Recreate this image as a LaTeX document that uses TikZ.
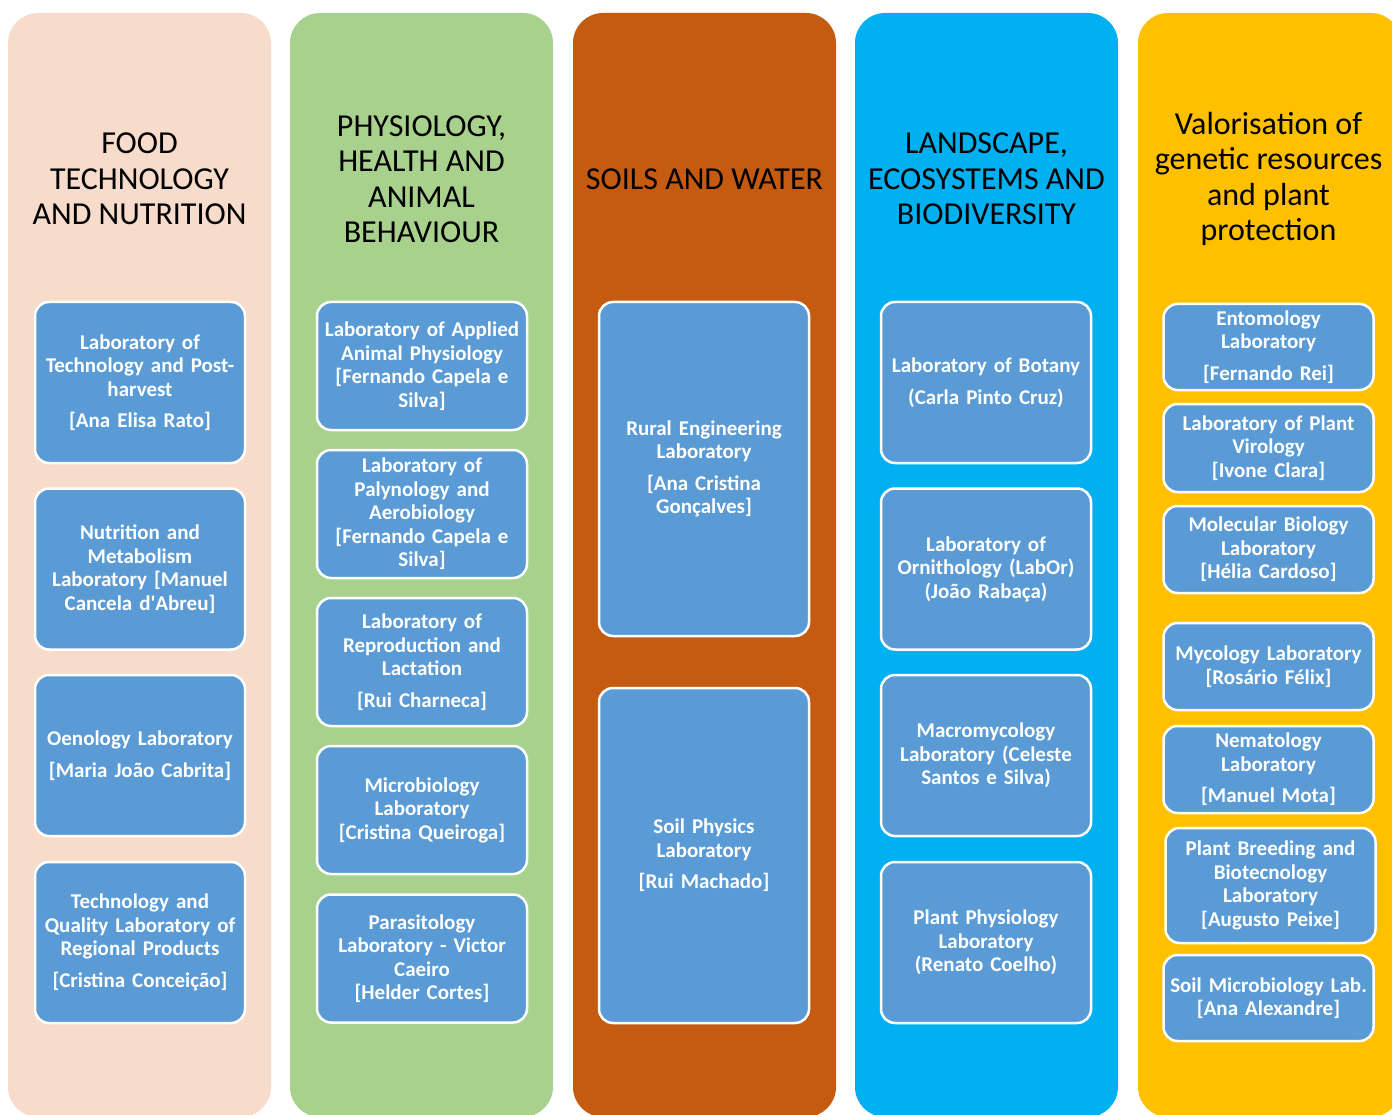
\documentclass[tikz,border=0pt]{standalone}
\usepackage{fontspec}
\setmainfont{Carlito}
\definecolor{foodcol}{HTML}{F8DCCB}
\definecolor{physcol}{HTML}{A9D18E}
\definecolor{soilcol}{HTML}{C55A11}
\definecolor{landcol}{HTML}{00B0F0}
\definecolor{genecol}{HTML}{FFC000}
\definecolor{labblue}{HTML}{5B9BD5}

\begin{document}
\begin{tikzpicture}[x=1pt,y=-1pt,
  column/.style={rounded corners=30pt},
  heading/.style={align=center,font=\fontsize{32}{35.5}\selectfont,text=black},
  lab/.style={draw=white,line width=2.5pt,fill=labblue,rounded corners=14pt,
    minimum width=210pt,text width=202pt,inner sep=0pt,align=center,
    text=white,font=\bfseries\fontsize{21}{23.5}\selectfont}]
   \useasboundingbox (0,0) rectangle (1392,1115);

   % columns
   \fill[column,foodcol] (8,13) rectangle (271,1117);
   \fill[column,physcol] (290,13) rectangle (553,1117);
   \fill[column,soilcol] (573,13) rectangle (836,1117);
   \fill[column,landcol] (855,13) rectangle (1118,1117);
   \fill[column,genecol] (1138,13) rectangle (1401,1117);

   % headings
   \node[heading] (hfood) at (139.5,179) {FOOD\\TECHNOLOGY\\AND NUTRITION};
   \node[heading] (hphys) at (421.5,179) {PHYSIOLOGY,\\HEALTH AND\\ANIMAL\\BEHAVIOUR};
   \node[heading] (hsoil) at (704.5,179) {SOILS AND WATER};
   \node[heading] (hland) at (986.5,179) {LANDSCAPE,\\ECOSYSTEMS AND\\BIODIVERSITY};
   \node[heading] (hgene) at (1268.5,179) {Valorisation of\\genetic resources\\and plant\\protection};

   % food technology and nutrition
   \node[lab,minimum height=161pt] (food1) at (140,382.5) {Laboratory of\\Technology and Post-\\harvest\\[8pt][Ana Elisa Rato]};
   \node[lab,minimum height=161pt] (food2) at (140,569) {Nutrition and\\Metabolism\\Laboratory [Manuel\\Cancela d\textquotesingle Abreu]};
   \node[lab,minimum height=161pt] (food3) at (140,755.5) {Oenology Laboratory\\[8pt][Maria João Cabrita]};
   \node[lab,minimum height=161pt] (food4) at (140,942.5) {Technology and\\Quality Laboratory of\\Regional Products\\[8pt][Cristina Conceição]};

   % physiology, health and animal behaviour
   \node[lab,minimum height=128pt] (phys1) at (422,366) {Laboratory of Applied\\Animal Physiology\\{}[Fernando Capela e\\Silva]};
   \node[lab,minimum height=128pt] (phys2) at (422,514) {Laboratory of\\Palynology and\\Aerobiology\\{}[Fernando Capela e\\Silva]};
   \node[lab,minimum height=128pt] (phys3) at (422,662) {Laboratory of\\Reproduction and\\Lactation\\[8pt][Rui Charneca]};
   \node[lab,minimum height=128pt] (phys4) at (422,810) {Microbiology\\Laboratory\\{}[Cristina Queiroga]};
   \node[lab,minimum height=128pt] (phys5) at (422,958.5) {Parasitology\\Laboratory - Victor\\Caeiro\\{}[Helder Cortes]};

   % soils and water
   \node[lab,minimum height=334pt] (soil1) at (704,469) {Rural Engineering\\Laboratory\\[8pt][Ana Cristina\\Gonçalves]};
   \node[lab,minimum height=335pt] (soil2) at (704,855.5) {Soil Physics\\Laboratory\\[8pt][Rui Machado]};

   % landscape, ecosystems and biodiversity
   \node[lab,minimum height=161pt] (land1) at (986,382.5) {Laboratory of Botany\\[8pt](Carla Pinto Cruz)};
   \node[lab,minimum height=161pt] (land2) at (986,569) {Laboratory of\\Ornithology (LabOr)\\(João Rabaça)};
   \node[lab,minimum height=161pt] (land3) at (986,755.5) {Macromycology\\Laboratory (Celeste\\Santos e Silva)};
   \node[lab,minimum height=161pt] (land4) at (986,942.5) {Plant Physiology\\Laboratory\\(Renato Coelho)};

   % valorisation of genetic resources and plant protection
   \node[lab,minimum height=86pt] (gene1) at (1268.5,347) {Entomology\\Laboratory\\[8pt][Fernando Rei]};
   \node[lab,minimum height=88pt] (gene2) at (1268.5,448) {Laboratory of Plant\\Virology\\{}[Ivone Clara]};
   \node[lab,minimum height=87pt] (gene3) at (1268.5,549.5) {Molecular Biology\\Laboratory\\{}[Hélia Cardoso]};
   \node[lab,minimum height=87pt] (gene4) at (1268.5,666.5) {Mycology Laboratory\\{}[Rosário Félix]};
   \node[lab,minimum height=87pt] (gene5) at (1268.5,769.5) {Nematology\\Laboratory\\[8pt][Manuel Mota]};
   \node[lab,minimum height=115pt] (gene6) at (1270.5,885.5) {Plant Breeding and\\Biotecnology\\Laboratory\\{}[Augusto Peixe]};
   \node[lab,minimum height=86pt] (gene7) at (1268.5,998) {Soil Microbiology Lab.\\{}[Ana Alexandre]};
\end{tikzpicture}
\end{document}
